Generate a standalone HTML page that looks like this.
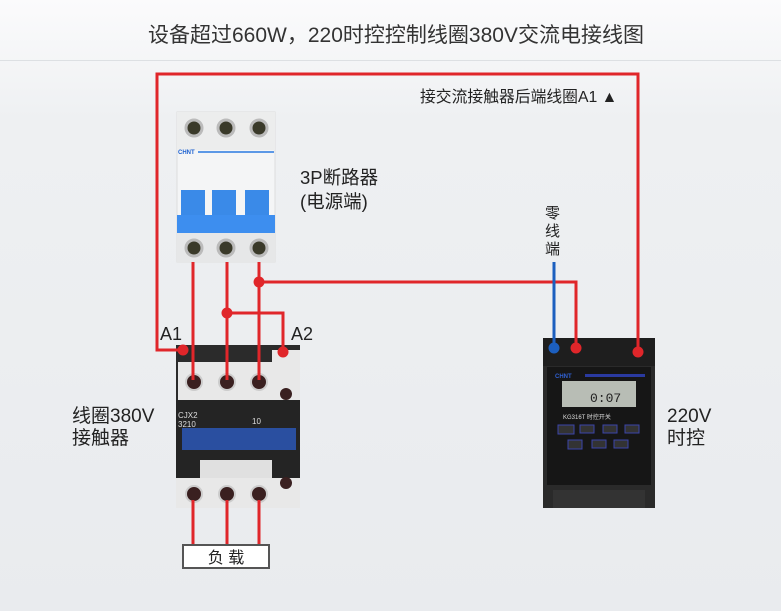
<!DOCTYPE html>
<html><head><meta charset="utf-8"><style>
body{margin:0;width:781px;height:611px;overflow:hidden;background:linear-gradient(#fbfbfc 0,#eef0f2 120px,#e9ebee 611px);font-family:"Liberation Sans","Noto Sans CJK SC",sans-serif;position:relative}
.t{position:absolute;color:#222;white-space:nowrap}
</style></head><body>
<div class="t" style="left:148px;top:19px;font-size:21px;color:#333">设备超过660W，220时控控制线圈380V交流电接线图</div>
<div style="position:absolute;left:0;top:60px;width:781px;height:1px;background:#dde0e3"></div>
<div class="t" style="left:420px;top:84px;font-size:15.8px">接交流接触器后端线圈A1 ▲</div>
<div class="t" style="left:300px;top:166px;font-size:18.5px;line-height:24px">3P断路器<br>(电源端)</div>
<div class="t" style="left:545px;top:205px;font-size:15px;line-height:18px;width:17px;white-space:normal">零线端</div>
<div class="t" style="left:160px;top:324px;font-size:18px">A1</div>
<div class="t" style="left:291px;top:324px;font-size:18px">A2</div>
<div class="t" style="left:72px;top:406px;font-size:19px;line-height:22px">线圈380V<br>接触器</div>
<div class="t" style="left:667px;top:406px;font-size:19px;line-height:22px">220V<br>时控</div>
<svg width="781" height="611" style="position:absolute;left:0;top:0">
<g>
<rect x="177" y="112" width="98" height="150" fill="#f4f5f6" stroke="#ddd"/>
<rect x="177" y="112" width="98" height="38" fill="#eceded"/>
<circle cx="194" cy="128" r="8" fill="#3a3a2a" stroke="#bbb" stroke-width="3"/>
<circle cx="226" cy="128" r="8" fill="#3a3a2a" stroke="#bbb" stroke-width="3"/>
<circle cx="259" cy="128" r="8" fill="#3a3a2a" stroke="#bbb" stroke-width="3"/>
<text x="178" y="154" font-size="6" fill="#1a5fd0" font-family="Liberation Sans" font-weight="bold">CHNT</text>
<line x1="198" y1="152" x2="274" y2="152" stroke="#2a7ae0" stroke-width="1.5"/>
<rect x="181" y="190" width="24" height="30" fill="#3a8ae8"/>
<rect x="212" y="190" width="24" height="30" fill="#3a8ae8"/>
<rect x="245" y="190" width="24" height="30" fill="#3a8ae8"/>
<rect x="177" y="215" width="98" height="18" fill="#3d8eef"/>
<rect x="177" y="233" width="98" height="30" fill="#e6e7e8"/>
<circle cx="194" cy="248" r="8" fill="#3a3a2a" stroke="#bbb" stroke-width="3"/>
<circle cx="226" cy="248" r="8" fill="#3a3a2a" stroke="#bbb" stroke-width="3"/>
<circle cx="259" cy="248" r="8" fill="#3a3a2a" stroke="#bbb" stroke-width="3"/>
</g>
<g>
<rect x="176" y="345" width="124" height="152" fill="#2b2b2b"/>
<rect x="178" y="362" width="120" height="38" fill="#e8e8e8"/>
<rect x="272" y="350" width="28" height="70" fill="#e8e8e8"/>
<rect x="176" y="400" width="124" height="78" fill="#242424"/>
<rect x="182" y="428" width="114" height="22" fill="#2a4fa0"/>
<rect x="200" y="460" width="72" height="18" fill="#e0e0e0"/>
<rect x="176" y="478" width="124" height="30" fill="#e8e8e8"/>
<circle cx="194" cy="382" r="8" fill="#3a2020" stroke="#ccc" stroke-width="2"/>
<circle cx="227" cy="382" r="8" fill="#3a2020" stroke="#ccc" stroke-width="2"/>
<circle cx="259" cy="382" r="8" fill="#3a2020" stroke="#ccc" stroke-width="2"/>
<circle cx="286" cy="394" r="6" fill="#3a2020"/>
<circle cx="194" cy="494" r="8" fill="#3a2020" stroke="#ccc" stroke-width="2"/>
<circle cx="227" cy="494" r="8" fill="#3a2020" stroke="#ccc" stroke-width="2"/>
<circle cx="259" cy="494" r="8" fill="#3a2020" stroke="#ccc" stroke-width="2"/>
<circle cx="286" cy="483" r="6" fill="#3a2020"/>
<text x="178" y="418" font-size="8" fill="#ddd" font-family="Liberation Sans">CJX2</text>
<text x="178" y="427" font-size="8" fill="#ddd" font-family="Liberation Sans">3210</text>
<text x="252" y="424" font-size="8" fill="#ddd" font-family="Liberation Sans">10</text>
</g>
<g>
<rect x="543" y="338" width="112" height="170" fill="#2a2a2a"/>
<rect x="543" y="338" width="112" height="28" fill="#1e1e1e"/>
<rect x="547" y="367" width="104" height="118" fill="#161616"/>
<text x="555" y="378" font-size="6" fill="#3060d0" font-family="Liberation Sans" font-weight="bold">CHNT</text>
<rect x="585" y="374" width="60" height="3" fill="#2a3aa0"/>
<rect x="562" y="381" width="74" height="26" fill="#b8bdb5"/>
<text x="590" y="402" font-size="13" fill="#222" font-family="Liberation Mono">0:07</text>
<text x="563" y="419" font-size="6" fill="#ddd" font-family="Liberation Sans">KG316T 时控开关</text>
<g fill="#333" stroke="#3b44aa"><rect x="558" y="425" width="16" height="9"/><rect x="580" y="425" width="14" height="8"/><rect x="603" y="425" width="14" height="8"/><rect x="625" y="425" width="14" height="8"/><rect x="568" y="440" width="14" height="9"/><rect x="592" y="440" width="14" height="8"/><rect x="614" y="440" width="14" height="8"/></g>
<rect x="553" y="490" width="92" height="18" fill="#333"/>
</g>
<g fill="none" stroke="#e0262a" stroke-width="3">
<polyline points="183,350 157,350 157,74 638,74 638,352"/>
<line x1="193" y1="262" x2="193" y2="380"/>
<line x1="227" y1="262" x2="227" y2="380"/>
<line x1="259" y1="262" x2="259" y2="380"/>
<polyline points="227,313 283,313 283,352"/>
<polyline points="259,282 576,282 576,348"/>
<line x1="193" y1="500" x2="193" y2="545"/>
<line x1="227" y1="500" x2="227" y2="545"/>
<line x1="259" y1="500" x2="259" y2="545"/>
</g>
<line x1="554" y1="262" x2="554" y2="348" stroke="#1c5fbf" stroke-width="3"/>
<g fill="#e0262a"><circle cx="183" cy="350" r="5.5"/><circle cx="283" cy="352" r="5.5"/><circle cx="227" cy="313" r="5.5"/><circle cx="259" cy="282" r="5.5"/><circle cx="576" cy="348" r="5.5"/><circle cx="638" cy="352" r="5.5"/></g>
<circle cx="554" cy="348" r="5.5" fill="#1c5fbf"/>
<rect x="183" y="545" width="86" height="23" fill="#fff" stroke="#555" stroke-width="2"/>
<text x="226" y="563" font-size="16" text-anchor="middle" fill="#222" font-family="Liberation Sans,Noto Sans CJK SC,sans-serif">负 载</text>
</svg>
</body></html>
